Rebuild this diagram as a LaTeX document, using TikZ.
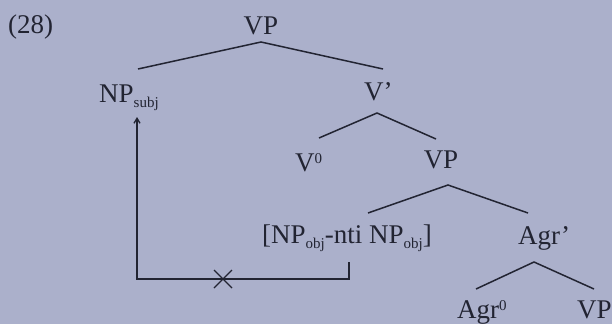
\documentclass[tikz,border=0pt]{standalone}
\usepackage{fontspec}
\setmainfont{Liberation Serif}
\usetikzlibrary{arrows.meta}
\definecolor{bgpaper}{RGB}{171,176,203}
\definecolor{ink}{RGB}{34,36,50}
\newcommand{\sbs}[1]{\raisebox{-5pt}{\fontsize{15}{15}\selectfont #1}}
\newcommand{\sps}[1]{\raisebox{8pt}{\fontsize{15}{15}\selectfont #1}}
\begin{document}
\begin{tikzpicture}[x=1pt,y=-1pt,
  lbl/.style={inner sep=0pt,text=ink,font=\fontsize{27}{29}\selectfont},
  branch/.style={draw=ink,line width=1.5pt},
  move/.style={draw=ink,line width=1.3pt}]
\fill[bgpaper] (0,0) rectangle (612,324);
\useasboundingbox (0,0) rectangle (612,324);
% labels
\node[lbl,anchor=base west] (ex) at (8,33) {(28)};
\node[lbl,anchor=base] (vp1) at (261,34) {VP};
\node[lbl,anchor=base west] (npsubj) at (99,102) {NP\sbs{subj}};
\node[lbl,anchor=base west] (vbar) at (364,100) {V'};
\node[lbl,anchor=base west] (v0) at (295,171) {V\sps{0}};
\node[lbl,anchor=base] (vp2) at (441,168) {VP};
\node[lbl,anchor=base west] (obj) at (262,243) {[NP\sbs{obj}-nti NP\sbs{obj}]};
\node[lbl,anchor=base west] (agrbar) at (518,244) {Agr'};
\node[lbl,anchor=base west] (agr0) at (457,318) {Agr\sps{0}};
\node[lbl,anchor=base west] (vp3) at (577,318) {VP};
% branch points
\coordinate (vp1a) at (261,42);
\coordinate (npsubjt) at (138,69);
\coordinate (vbart) at (383,69);
\coordinate (vbara) at (377,113);
\coordinate (v0t) at (319,138);
\coordinate (vp2t) at (436,139);
\coordinate (vp2a) at (448,185);
\coordinate (objt) at (368,213);
\coordinate (agrbart) at (528,213);
\coordinate (agrbara) at (534,262);
\coordinate (agr0t) at (476,289);
\coordinate (vp3t) at (594,289);
\draw[branch] (npsubjt) -- (vp1a) -- (vbart);
\draw[branch] (v0t) -- (vbara) -- (vp2t);
\draw[branch] (objt) -- (vp2a) -- (agrbart);
\draw[branch] (agr0t) -- (agrbara) -- (vp3t);
% movement line
\coordinate (mvs) at (349,262);
\coordinate (mvr) at (349,279);
\coordinate (mvl) at (137,279);
\coordinate (mve) at (137,117);
\draw[move,-{Straight Barb[length=5pt,width=6pt]}] (mvs) -- (mvr) -- (mvl) -- (mve);
\coordinate (cross) at (223,279);
\draw[move] ([shift={(-9,-9)}]cross) -- ([shift={(9,9)}]cross)
            ([shift={(-9,9)}]cross) -- ([shift={(9,-9)}]cross);
\end{tikzpicture}
\end{document}
